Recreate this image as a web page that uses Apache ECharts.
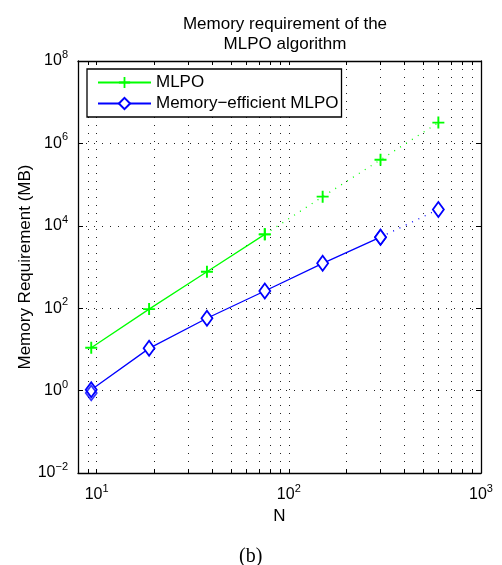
<!DOCTYPE html>
<html>
<head>
<meta charset="utf-8">
<script src="https://cdn.jsdelivr.net/npm/echarts@6/dist/echarts.min.js"></script>
<style>
html,body{margin:0;padding:0;background:#fff;}
#chart{width:502px;height:565px;}
</style>
</head>
<body>
<div id="chart"></div>
<script>
// ---- data ----
var N = [9.375, 18.75, 37.5, 75, 150, 300, 600];
var mlpo = [11, 95, 770, 6200, 51000, 400000, 3200000];
var efficient = [1.05, 10.6, 57, 261, 1230, 5300, 25000];
var extraDiamonds = [0.88];           // overlapping diamond near first point
var mlpoSolidCount = 4;               // points 0..3 solid, rest dotted
var effSolidCount = 6;                // points 0..5 solid, rest dotted
var xTickValues = [9, 10, 20, 30, 40, 50, 60, 70, 80, 90, 100, 200, 300, 400, 500, 600, 700, 800, 900, 1000];
var xLabelValues = [10, 100, 1000];
var yTickValues = [0.01, 1, 100, 10000, 1000000, 100000000];
var seriesNames = ['MLPO', 'Memory\u2212efficient MLPO'];
var titleText = 'Memory requirement of the\nMLPO algorithm';
var xName = 'N';
var yName = 'Memory Requirement (MB)';
var captionText = '(b)';

function pairs(xs, ys, from, to) {
  var out = [];
  for (var i = from; i < to; i++) out.push([xs[i], ys[i]]);
  return out;
}
function powLabel(v) {
  var e = Math.round(Math.log10(v));
  var s = e < 0 ? '\u2212' + (-e) : String(e);
  return '{b|10}{s|' + s + '}';
}
var FONT = 'Liberation Sans';
var GREEN = '#00ff00', BLUE = '#0000ff';
var plusPath = 'path://M4.2,0H5.8V4.2H10V5.8H5.8V10H4.2V5.8H0V4.2H4.2Z';
var richLbl = {
  b: {fontSize: 16, fontFamily: FONT, color: '#000'},
  s: {fontSize: 11, fontFamily: FONT, color: '#000', padding: [0, 0, 12, 0]}
};

var chart = echarts.init(document.getElementById('chart'), null, {renderer: 'canvas'});

var axisLineStyle = {show: true, lineStyle: {color: '#000', width: 1.3}};
var gridSplit = {show: true, lineStyle: {color: '#222', width: 1, type: [1, 7]}};

var option = {
  backgroundColor: '#fff',
  animation: false,
  title: {
    text: titleText,
    left: 280, top: 9, textAlign: 'center',
    textStyle: {fontFamily: FONT, fontSize: 17, fontWeight: 'normal', color: '#000', lineHeight: 20}
  },
  grid: {left: 78, right: 21, top: 61, bottom: 92, containLabel: false},
  legend: {
    data: seriesNames,
    orient: 'vertical',
    left: 87, top: 69,
    padding: [5, 3, 5, 10],
    itemGap: 4,
    itemWidth: 53, itemHeight: 14,
    borderColor: '#000', borderWidth: 1.3,
    backgroundColor: '#fff',
    textStyle: {fontFamily: FONT, fontSize: 17, color: '#000'}
  },
  xAxis: [{
    type: 'log', logBase: 10, min: 8, max: 1000,
    name: xName, nameLocation: 'middle', nameGap: 35, nameMoveOverlap: false,
    nameTextStyle: {fontFamily: FONT, fontSize: 17, color: '#000'},
    axisLine: axisLineStyle,
    axisTick: {show: true, inside: true, length: 4, customValues: xTickValues, lineStyle: {color: '#000'}},
    axisLabel: {customValues: xLabelValues, formatter: powLabel, rich: richLbl, margin: 10},
    splitLine: gridSplit,
    minorTick: {show: false}
  }, {
    type: 'log', logBase: 10, min: 8, max: 1000, position: 'top',
    axisLine: axisLineStyle,
    axisTick: {show: true, inside: true, length: 4, customValues: xTickValues, lineStyle: {color: '#000'}},
    axisLabel: {show: false},
    splitLine: {show: false}
  }],
  yAxis: [{
    type: 'log', logBase: 10, min: 0.01, max: 100000000,
    name: yName, nameLocation: 'middle', nameGap: 44, nameRotate: 90, nameMoveOverlap: false,
    nameTextStyle: {fontFamily: FONT, fontSize: 17, color: '#000'},
    axisLine: axisLineStyle,
    axisTick: {show: true, inside: true, length: 5, customValues: yTickValues, lineStyle: {color: '#000'}},
    axisLabel: {customValues: yTickValues, formatter: powLabel, rich: richLbl, margin: 10},
    splitLine: gridSplit
  }, {
    type: 'log', logBase: 10, min: 0.01, max: 100000000, position: 'right',
    axisLine: axisLineStyle,
    axisTick: {show: true, inside: true, length: 5, customValues: yTickValues, lineStyle: {color: '#000'}},
    axisLabel: {show: false},
    splitLine: {show: false}
  }],
  series: [
    {
      name: seriesNames[0], type: 'line',
      data: pairs(N, mlpo, 0, mlpoSolidCount),
      symbol: plusPath, symbolSize: 12,
      itemStyle: {color: GREEN},
      lineStyle: {color: GREEN, width: 1.3},
      z: 3
    },
    {
      name: 'mlpo-extrap', type: 'line',
      data: pairs(N, mlpo, mlpoSolidCount - 1, N.length),
      symbol: plusPath, symbolSize: 12,
      itemStyle: {color: GREEN},
      lineStyle: {color: GREEN, width: 1.3, type: [1, 6]},
      z: 3
    },
    {
      name: seriesNames[1], type: 'line',
      data: pairs(N, efficient, 0, effSolidCount),
      symbol: 'diamond', symbolSize: [11, 15],
      itemStyle: {color: '#fff', borderColor: BLUE, borderWidth: 1.8},
      lineStyle: {color: BLUE, width: 1.3},
      z: 3
    },
    {
      name: 'eff-extrap', type: 'line',
      data: pairs(N, efficient, effSolidCount - 1, N.length),
      symbol: 'diamond', symbolSize: [11, 15],
      itemStyle: {color: '#fff', borderColor: BLUE, borderWidth: 1.8},
      lineStyle: {color: BLUE, width: 1.3, type: [1, 6]},
      z: 3
    },
    {
      name: 'eff-extra', type: 'scatter',
      data: extraDiamonds.map(function (v) { return [N[0], v]; }),
      symbol: 'diamond', symbolSize: [11, 15],
      itemStyle: {color: 'rgba(0,0,0,0)', borderColor: BLUE, borderWidth: 1.8},
      z: 3
    }
  ],
  graphic: [{
    type: 'text', left: 239, top: 547,
    style: {text: captionText, font: '20px "Liberation Serif"', fill: '#000'}
  }]
};
chart.setOption(option);
</script>
</body>
</html>
